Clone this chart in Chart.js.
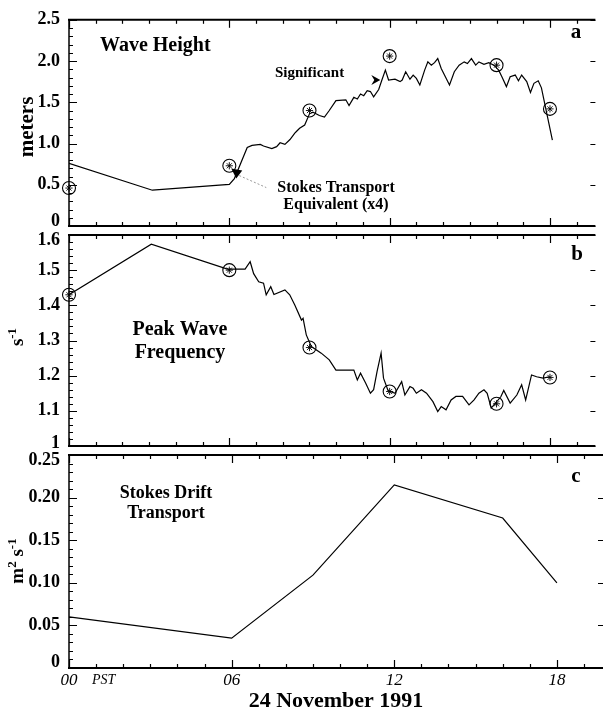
<!DOCTYPE html>
<html><head><meta charset="utf-8">
<script src="https://cdn.jsdelivr.net/npm/chart.js@4.4.1/dist/chart.umd.min.js"></script>
<style>
html,body{margin:0;padding:0;background:#fff;overflow:hidden;}
#wrap{position:relative;width:603px;height:715px;background:#fff;}
canvas{position:absolute;left:0;top:0;}
</style></head><body><div id="wrap">
<canvas id="ca" width="603" height="715"></canvas>
<canvas id="cb" width="603" height="715"></canvas>
<canvas id="cc" width="603" height="715"></canvas>
</div>
<script>
// ---------------- DATA ----------------
// Panel a: significant wave height (m) vs hour (PST, 24 Nov 1991)
const hoursA = [0,3.12,6.0,6.19,6.67,6.85,7.16,7.28,7.59,7.77,7.9,8.08,8.27,8.45,8.51,8.63,8.82,9.0,9.13,9.37,9.56,9.74,9.99,10.36,10.48,10.66,10.79,10.91,11.03,11.16,11.28,11.4,11.59,11.71,11.84,11.96,12.2,12.39,12.47,12.6,12.76,12.88,13.0,13.13,13.31,13.43,13.56,13.68,13.8,13.93,14.24,14.42,14.6,14.79,14.91,15.06,15.22,15.34,15.53,15.71,15.9,16.08,16.2,16.37,16.51,16.7,16.82,16.94,17.13,17.27,17.4,17.56,17.68,18.09];
const waveHeight = [0.76,0.434,0.505,0.575,0.951,0.978,0.99,0.97,0.939,0.962,1.009,0.99,1.048,1.127,1.146,1.185,1.224,1.36,1.38,1.34,1.32,1.40,1.52,1.53,1.46,1.56,1.54,1.60,1.58,1.64,1.63,1.565,1.655,1.77,1.89,1.77,1.78,1.75,1.77,1.87,1.78,1.83,1.79,1.71,1.89,1.99,1.95,1.98,2.03,1.91,1.71,1.87,1.95,1.99,1.97,2.03,1.95,1.99,1.96,1.98,1.95,1.89,1.81,1.69,1.81,1.83,1.76,1.83,1.75,1.62,1.73,1.76,1.675,1.04];
// Stokes transport equivalent (x4) markers in panel a
const markerHoursA = [0,6,9,12,16,18];
const markerHeight = [0.46,0.73,1.40,2.06,1.95,1.42];

// Panel b: peak wave frequency (s^-1)
const hoursB = [0,3.08,5.93,6.59,6.78,6.91,7.1,7.28,7.38,7.55,7.67,8.08,8.26,8.45,8.7,8.76,8.88,9.07,9.44,9.74,9.99,10.36,10.66,10.79,10.91,11.1,11.28,11.4,11.53,11.68,11.77,11.94,12.2,12.45,12.57,12.76,12.88,13.0,13.19,13.38,13.62,13.8,13.93,14.11,14.3,14.48,14.73,14.97,15.16,15.34,15.53,15.65,15.8,15.96,16.16,16.27,16.51,16.76,16.94,17.09,17.31,17.5,17.74,17.99];
const peakFreq = [1.43,1.574,1.503,1.503,1.524,1.49,1.467,1.463,1.43,1.453,1.431,1.444,1.43,1.401,1.358,1.363,1.316,1.283,1.264,1.245,1.216,1.216,1.216,1.188,1.207,1.179,1.15,1.16,1.212,1.264,1.193,1.158,1.15,1.183,1.145,1.169,1.164,1.15,1.16,1.15,1.126,1.098,1.112,1.103,1.131,1.141,1.141,1.117,1.131,1.15,1.16,1.15,1.108,1.122,1.14,1.158,1.122,1.145,1.174,1.131,1.202,1.197,1.193,1.197];
const markerHoursB = [0,6,9,12,16,18];
const markerFreq = [1.43,1.50,1.28,1.155,1.12,1.195];

// Panel c: Stokes drift transport (m^2 s^-1)
const hoursC = [0,6,9,12,16,18];
const stokesTransport = [0.06,0.035,0.109,0.215,0.176,0.10];

// Tick labels
const xMajorHours = [0,6,12,18];
const xTickLabels = ['00','06','12','18'];
const yTicksA = [0,0.5,1.0,1.5,2.0,2.5];
const yLabelsA = ['0','0.5','1.0','1.5','2.0','2.5'];
const yTicksB = [1.0,1.1,1.2,1.3,1.4,1.5,1.6];
const yLabelsB = ['1','1.1','1.2','1.3','1.4','1.5','1.6'];
const yTicksC = [0,0.05,0.10,0.15,0.20,0.25];
const yLabelsC = ['0','0.05','0.10','0.15','0.20','0.25'];

// ---------------- RENDER ----------------
const SERIF = "'Liberation Serif', 'Times New Roman', serif";
const X_MAX = 19.7;

function pts(xs, ys){ return xs.map((x,i)=>({x:x, y:ys[i]})); }

function markerSets(xs, ys){
  return [
    { data: pts(xs, ys), showLine: false, pointStyle: 'circle', pointRadius: 6.5,
      pointBackgroundColor: 'rgba(0,0,0,0)', pointBorderColor: '#000', pointBorderWidth: 1.1, clip: false },
    { data: pts(xs, ys), showLine: false, pointStyle: 'star', pointRadius: 3.6,
      pointBackgroundColor: 'rgba(0,0,0,0)', pointBorderColor: '#000', pointBorderWidth: 0.9, clip: false }
  ];
}

function drawRotTitle(ctx, parts, baseX, cy){
  ctx.save();
  let total = 0;
  parts.forEach(p=>{ ctx.font = 'bold '+p.size+'px '+SERIF; p.w = ctx.measureText(p.t).width; total += p.w; });
  ctx.translate(baseX, cy);
  ctx.rotate(-Math.PI/2);
  ctx.textAlign = 'left'; ctx.textBaseline = 'alphabetic'; ctx.fillStyle = '#000';
  let x = -total/2;
  parts.forEach(p=>{ ctx.font = 'bold '+p.size+'px '+SERIF; ctx.fillText(p.t, x, p.sup ? -7 : 0); x += p.w; });
  ctx.restore();
}

function text(ctx, s, x, y, font, align){
  ctx.save(); ctx.font = font; ctx.fillStyle = '#000';
  ctx.textAlign = align || 'left'; ctx.textBaseline = 'middle';
  ctx.fillText(s, x, y); ctx.restore();
}

function framePlugin(minorStep, majorStep, extra){
  return {
    id: 'frame',
    afterDraw(chart){
      const ctx = chart.ctx, a = chart.chartArea;
      const xs = chart.scales.x, ys = chart.scales.y;
      ctx.save();
      ctx.strokeStyle = '#000';
      ctx.lineWidth = 2;
      ctx.beginPath(); ctx.moveTo(a.left-1, a.top); ctx.lineTo(a.right, a.top); ctx.stroke();
      ctx.beginPath(); ctx.moveTo(a.left-1, a.bottom); ctx.lineTo(a.right, a.bottom); ctx.stroke();
      ctx.lineWidth = 1.5;
      ctx.beginPath(); ctx.moveTo(a.left, a.top); ctx.lineTo(a.left, a.bottom); ctx.stroke();
      ctx.lineWidth = 1.2;
      for (let h=0; h<=19; h++){
        const px = Math.round(xs.getPixelForValue(h))+0.5;
        const L = (h%6===0) ? 8 : 4;
        ctx.beginPath(); ctx.moveTo(px, a.bottom); ctx.lineTo(px, a.bottom-L); ctx.stroke();
        ctx.beginPath(); ctx.moveTo(px, a.top); ctx.lineTo(px, a.top+L); ctx.stroke();
      }
      const n = Math.round((ys.max-ys.min)/minorStep);
      const per = Math.round(majorStep/minorStep);
      for (let i=0;i<=n;i++){
        const v = ys.min + i*minorStep;
        const py = Math.round(ys.getPixelForValue(v))+0.5;
        const major = (i%per===0);
        const L = major ? 8 : 4;
        ctx.lineWidth = 1;
        ctx.beginPath(); ctx.moveTo(a.left, py); ctx.lineTo(a.left+L, py); ctx.stroke();
        if (major){ ctx.beginPath(); ctx.moveTo(a.right, py); ctx.lineTo(a.right-5, py); ctx.stroke(); }
      }
      ctx.restore();
      if (extra) extra(chart);
    }
  };
}

// edge labels are nudged inward (top label down, bottom label up) as in the original
function baseOptions(top, bottom, showX, yTicks, yLabels, ymin, ymax, shiftBottom, shiftTop){
  const last = yTicks.length - 1;
  return {
    responsive: false, animation: false, devicePixelRatio: 1, events: [],
    layout: { padding: { top: top, bottom: bottom, left: 0, right: 0 } },
    plugins: { legend: { display: false }, tooltip: { enabled: false } },
    scales: {
      x: {
        type: 'linear', min: 0, max: X_MAX, display: showX,
        grid: { display: false, drawTicks: false }, border: { display: false },
        afterBuildTicks: s => { s.ticks = xMajorHours.map(v=>({value:v})); },
        afterFit: s => { if (showX) s.height = 47; },
        ticks: { autoSkip: false, maxRotation: 0, padding: 2, color: '#000',
          font: { family: SERIF, size: 17, style: 'italic' },
          callback: (v,i) => xTickLabels[i] },
        title: { display: showX, text: '24 November 1991', color: '#000',
          font: { family: SERIF, size: 22, weight: 'bold' }, padding: { top: 0, bottom: 0 } }
      },
      y: {
        type: 'linear', min: ymin, max: ymax,
        grid: { display: false, drawTicks: false }, border: { display: false },
        afterBuildTicks: s => { s.ticks = yTicks.map(v=>({value:v})); },
        afterFit: s => { s.width = 69; },
        ticks: { autoSkip: false, padding: 9, color: '#000',
          font: c => {
            let lh = 1.2;
            if (c.index === 0 && shiftBottom) lh = 2*shiftBottom/18;
            if (c.index === last && shiftTop) lh = 2*shiftTop/18;
            return { family: SERIF, size: 18, weight: 'bold', lineHeight: lh };
          },
          callback: (v,i) => {
            if (i === 0 && shiftBottom) return [yLabels[i], ''];
            if (i === last && shiftTop) return ['', yLabels[i]];
            return yLabels[i];
          } }
      }
    }
  };
}

// Panel a
new Chart(document.getElementById('ca'), {
  type: 'line',
  data: { datasets: [
    { data: pts(hoursA, waveHeight), borderColor: '#000', borderWidth: 1.2, pointRadius: 0, tension: 0, fill: false }
  ].concat(markerSets(markerHoursA, markerHeight)) },
  options: baseOptions(13, 715-226, false, yTicksA, yLabelsA, 0, 2.5, 5, 0),
  plugins: [framePlugin(0.1, 0.5, chart => {
    const ctx = chart.ctx, xs = chart.scales.x, ys = chart.scales.y;
    drawRotTitle(ctx, [{t:'meters', size:21}], 33, 127);
    text(ctx, 'Wave Height', 100, 46, 'bold 20px '+SERIF);
    text(ctx, 'a', 576, 33, 'bold 21px '+SERIF, 'center');
    text(ctx, 'Significant', 275, 73, 'bold 15px '+SERIF);
    text(ctx, 'Stokes Transport', 336, 188, 'bold 16px '+SERIF, 'center');
    text(ctx, 'Equivalent (x4)', 336, 205, 'bold 16px '+SERIF, 'center');
    let tx = xs.getPixelForValue(11.65), ty = ys.getPixelForValue(1.77);
    ctx.save(); ctx.fillStyle = '#000';
    ctx.beginPath(); ctx.moveTo(tx, ty); ctx.lineTo(tx-9, ty-5); ctx.lineTo(tx-6, ty); ctx.lineTo(tx-9, ty+5); ctx.closePath(); ctx.fill();
    tx = xs.getPixelForValue(6.26); ty = ys.getPixelForValue(0.575);
    ctx.strokeStyle = '#999'; ctx.lineWidth = 1; ctx.setLineDash([2,2]);
    ctx.beginPath(); ctx.moveTo(tx+3, ty-3); ctx.lineTo(tx+30, ty+9); ctx.stroke();
    ctx.setLineDash([]);
    ctx.beginPath(); ctx.moveTo(tx-5, ty-10); ctx.lineTo(tx+6, ty-8); ctx.lineTo(tx, ty); ctx.closePath(); ctx.fill();
    ctx.restore();
  })]
});

// Panel b
new Chart(document.getElementById('cb'), {
  type: 'line',
  data: { datasets: [
    { data: pts(hoursB, peakFreq), borderColor: '#000', borderWidth: 1.2, pointRadius: 0, tension: 0, fill: false }
  ].concat(markerSets(markerHoursB, markerFreq)) },
  options: baseOptions(235, 715-446, false, yTicksB, yLabelsB, 1.0, 1.6, 3, 5),
  plugins: [framePlugin(0.02, 0.1, chart => {
    const ctx = chart.ctx;
    drawRotTitle(ctx, [{t:'s', size:19},{t:'-1', size:13, sup:true}], 23, 337);
    text(ctx, 'Peak Wave', 180, 330, 'bold 20px '+SERIF, 'center');
    text(ctx, 'Frequency', 180, 353, 'bold 20px '+SERIF, 'center');
    text(ctx, 'b', 577, 255, 'bold 21px '+SERIF, 'center');
  })]
});

// Panel c
new Chart(document.getElementById('cc'), {
  type: 'line',
  data: { datasets: [
    { data: pts(hoursC, stokesTransport), borderColor: '#000', borderWidth: 1.2, pointRadius: 0, tension: 0, fill: false }
  ]},
  options: baseOptions(455, 0, true, yTicksC, yLabelsC, 0, 0.25, 6, 5),
  plugins: [framePlugin(0.01, 0.05, chart => {
    const ctx = chart.ctx, xs = chart.scales.x;
    drawRotTitle(ctx, [{t:'m', size:19},{t:'2', size:13, sup:true},{t:' s', size:19},{t:'-1', size:13, sup:true}], 23, 561);
    text(ctx, 'Stokes Drift', 166, 493, 'bold 18px '+SERIF, 'center');
    text(ctx, 'Transport', 166, 513, 'bold 18px '+SERIF, 'center');
    text(ctx, 'c', 576, 477, 'bold 21px '+SERIF, 'center');
    text(ctx, 'PST', xs.getPixelForValue(0)+23, 680, 'italic 14px '+SERIF);
  })]
});
</script>
</body></html>
